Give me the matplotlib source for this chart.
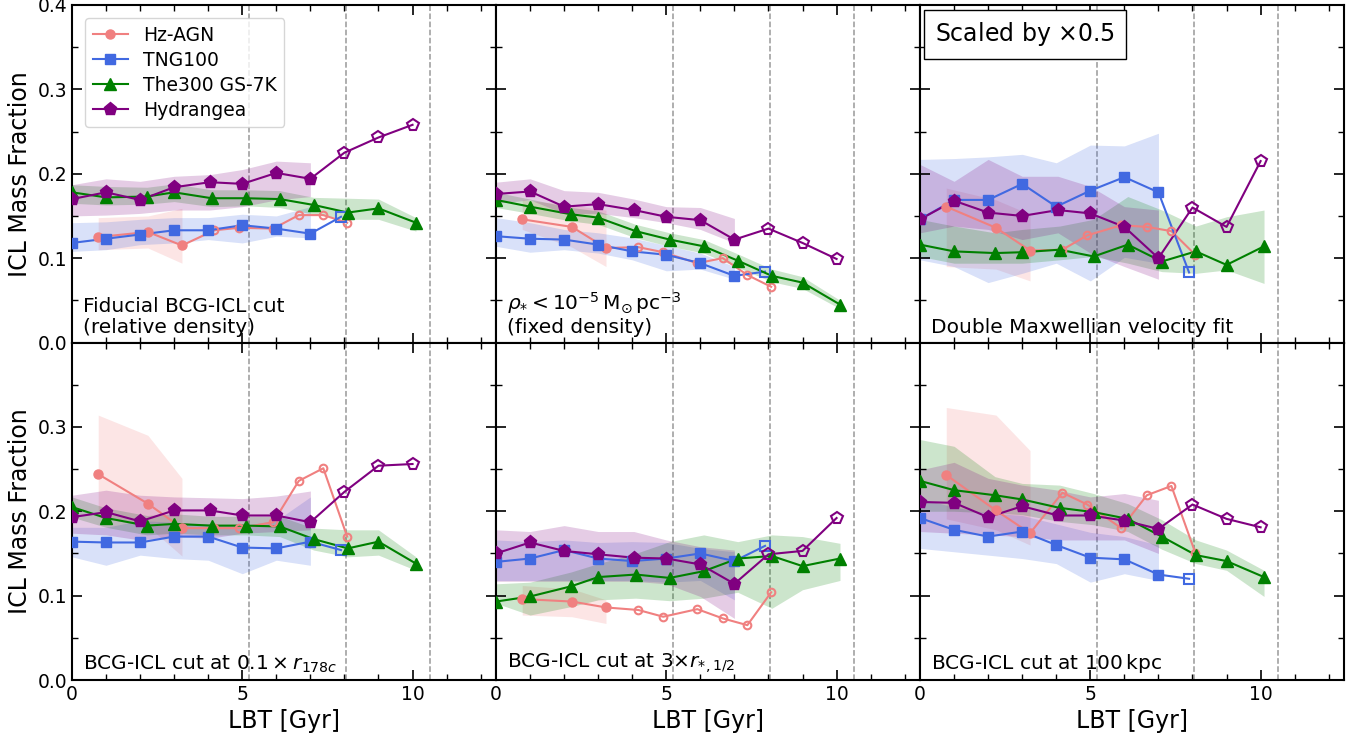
import numpy as np
import matplotlib
matplotlib.use("Agg")
import matplotlib.pyplot as plt
from matplotlib.ticker import MultipleLocator, FixedLocator, FixedFormatter
from matplotlib.lines import Line2D

# ---------------- data ----------------
# look-back times [Gyr] of the plotted points
hz_x = [0.77, 2.23, 3.23, 4.18, 4.91, 5.91, 6.66, 7.38, 8.08]
tng_x = [0.0, 1.0, 2.0, 3.0, 4.0, 5.0, 6.0, 7.0, 7.9]
t300_x = [0.0, 1.0, 2.2, 3.0, 4.1, 5.1, 6.1, 7.1, 8.1, 9.0, 10.1]
hyd_x = [0.0, 1.0, 2.0, 3.0, 4.05, 5.0, 6.0, 7.0, 8.0, 9.0, 10.0]

# number of filled (robust) points per simulation; rest are open markers
hz_nfill = 3
tng_nfill = 8
t300_nfill = 11
hyd_nfill = 8

panel_labels = [
    "Fiducial BCG-ICL cut\n(relative density)",
    r"$\rho_{*} < 10^{-5}\,\mathrm{M_{\odot}\,pc^{-3}}$" + "\n(fixed density)",
    "Double Maxwellian velocity fit",
    r"BCG-ICL cut at $0.1\times r_{178c}$",
    r"BCG-ICL cut at $3{\times}r_{*,1/2}$",
    r"BCG-ICL cut at 100$\,$kpc",
]
vlines_x = [5.2, 8.05, 10.5]
x_ticks = [0, 5, 10]
x_ticklabels = ["0", "5", "10"]
y_ticks = [0.0, 0.1, 0.2, 0.3, 0.4]
y_ticklabels_top = ["0.0", "0.1", "0.2", "0.3", "0.4"]
y_ticklabels_bottom = ["0.0", "0.1", "0.2", "0.3", ""]

# Hz-AGN (median, 16th, 84th percentile) per panel
hz_mid = [
    [0.125, 0.131, 0.115, 0.133, 0.136, 0.135, 0.151, 0.151, 0.142],
    [0.146, 0.137, 0.112, 0.113, 0.107, 0.094, 0.100, 0.080, 0.066],
    [0.161, 0.136, 0.109, 0.110, 0.127, 0.139, 0.137, 0.132, 0.104],
    [0.244, 0.209, 0.180, 0.180, 0.180, 0.187, 0.236, 0.251, 0.170],
    [0.096, 0.093, 0.086, 0.083, 0.075, 0.084, 0.073, 0.065, 0.104],
    [0.243, 0.201, 0.174, 0.222, 0.208, 0.180, 0.219, 0.230, 0.151],
]
hz_lo = [
    [0.110, 0.112, 0.094],
    [0.134, 0.113, 0.090],
    [0.090, 0.087, 0.073],
    [0.193, 0.182, 0.147],
    [0.077, 0.075, 0.067],
    [0.191, 0.178, 0.160],
]
hz_hi = [
    [0.148, 0.150, 0.159],
    [0.169, 0.163, 0.157],
    [0.183, 0.169, 0.152],
    [0.314, 0.290, 0.239],
    [0.112, 0.108, 0.095],
    [0.323, 0.314, 0.272],
]

# TNG100
tng_mid = [
    [0.118, 0.123, 0.128, 0.133, 0.133, 0.139, 0.135, 0.129, 0.149],
    [0.126, 0.123, 0.122, 0.116, 0.108, 0.104, 0.094, 0.079, 0.084],
    [0.146, 0.169, 0.169, 0.188, 0.161, 0.180, 0.196, 0.178, 0.083],
    [0.164, 0.163, 0.163, 0.170, 0.170, 0.157, 0.156, 0.164, 0.154],
    [0.140, 0.144, 0.154, 0.144, 0.141, 0.144, 0.150, 0.141, 0.159],
    [0.192, 0.178, 0.170, 0.176, 0.160, 0.145, 0.143, 0.125, 0.120],
]
tng_lo = [
    [0.108, 0.110, 0.116, 0.118, 0.122, 0.118, 0.126, 0.124],
    [0.114, 0.107, 0.110, 0.106, 0.098, 0.085, 0.087, 0.075],
    [0.098, 0.090, 0.071, 0.082, 0.094, 0.073, 0.101, 0.094],
    [0.146, 0.136, 0.148, 0.144, 0.142, 0.126, 0.142, 0.136],
    [0.118, 0.118, 0.118, 0.118, 0.118, 0.116, 0.118, 0.095],
    [0.156, 0.152, 0.148, 0.144, 0.138, 0.116, 0.126, 0.118],
]
tng_hi = [
    [0.142, 0.143, 0.146, 0.148, 0.148, 0.152, 0.150, 0.161],
    [0.148, 0.142, 0.134, 0.130, 0.124, 0.115, 0.106, 0.090],
    [0.217, 0.218, 0.220, 0.223, 0.213, 0.234, 0.233, 0.248],
    [0.181, 0.181, 0.189, 0.187, 0.185, 0.183, 0.189, 0.217],
    [0.166, 0.164, 0.166, 0.163, 0.164, 0.163, 0.156, 0.152],
    [0.215, 0.205, 0.198, 0.195, 0.185, 0.175, 0.170, 0.160],
]

# The300 GS-7K
t300_mid = [
    [0.178, 0.172, 0.173, 0.178, 0.171, 0.171, 0.170, 0.163, 0.154, 0.159, 0.142],
    [0.169, 0.161, 0.152, 0.148, 0.132, 0.122, 0.114, 0.097, 0.079, 0.071, 0.045],
    [0.116, 0.108, 0.106, 0.107, 0.110, 0.102, 0.116, 0.096, 0.108, 0.092, 0.114],
    [0.205, 0.192, 0.183, 0.185, 0.183, 0.183, 0.182, 0.167, 0.156, 0.164, 0.138],
    [0.093, 0.099, 0.111, 0.122, 0.125, 0.121, 0.129, 0.144, 0.147, 0.135, 0.144],
    [0.236, 0.225, 0.219, 0.214, 0.204, 0.199, 0.191, 0.170, 0.148, 0.141, 0.122],
]
t300_lo = [
    [0.165, 0.163, 0.164, 0.167, 0.161, 0.162, 0.160, 0.152, 0.146, 0.146, 0.132],
    [0.160, 0.153, 0.144, 0.140, 0.124, 0.114, 0.106, 0.089, 0.072, 0.064, 0.040],
    [0.102, 0.094, 0.094, 0.094, 0.098, 0.102, 0.094, 0.084, 0.082, 0.086, 0.070],
    [0.193, 0.181, 0.172, 0.174, 0.172, 0.172, 0.170, 0.154, 0.146, 0.148, 0.130],
    [0.091, 0.077, 0.087, 0.095, 0.097, 0.094, 0.097, 0.104, 0.085, 0.107, 0.118],
    [0.200, 0.200, 0.198, 0.196, 0.188, 0.184, 0.176, 0.155, 0.138, 0.130, 0.099],
]
t300_hi = [
    [0.187, 0.185, 0.184, 0.188, 0.181, 0.181, 0.180, 0.172, 0.171, 0.170, 0.148],
    [0.178, 0.170, 0.160, 0.156, 0.140, 0.130, 0.122, 0.105, 0.087, 0.078, 0.050],
    [0.146, 0.138, 0.130, 0.134, 0.138, 0.146, 0.173, 0.157, 0.138, 0.149, 0.157],
    [0.217, 0.204, 0.195, 0.197, 0.194, 0.194, 0.194, 0.180, 0.178, 0.178, 0.146],
    [0.114, 0.116, 0.128, 0.138, 0.150, 0.164, 0.172, 0.164, 0.172, 0.170, 0.162],
    [0.285, 0.277, 0.241, 0.233, 0.231, 0.221, 0.209, 0.190, 0.166, 0.154, 0.130],
]

# Hydrangea
hyd_mid = [
    [0.170, 0.178, 0.169, 0.184, 0.190, 0.188, 0.201, 0.194, 0.225, 0.243, 0.258],
    [0.176, 0.179, 0.161, 0.164, 0.157, 0.149, 0.145, 0.122, 0.135, 0.118, 0.099],
    [0.146, 0.168, 0.154, 0.150, 0.157, 0.153, 0.137, 0.100, 0.160, 0.137, 0.215],
    [0.193, 0.199, 0.188, 0.201, 0.201, 0.195, 0.195, 0.187, 0.223, 0.254, 0.256],
    [0.150, 0.163, 0.153, 0.149, 0.145, 0.144, 0.137, 0.114, 0.149, 0.153, 0.192],
    [0.211, 0.210, 0.193, 0.206, 0.195, 0.195, 0.189, 0.179, 0.208, 0.191, 0.181],
]
hyd_lo = [
    [0.150, 0.151, 0.153, 0.157, 0.157, 0.161, 0.169, 0.173],
    [0.165, 0.169, 0.153, 0.153, 0.148, 0.142, 0.134, 0.118],
    [0.130, 0.138, 0.134, 0.122, 0.130, 0.106, 0.090, 0.075],
    [0.174, 0.172, 0.166, 0.170, 0.168, 0.174, 0.176, 0.178],
    [0.117, 0.117, 0.117, 0.117, 0.117, 0.114, 0.099, 0.073],
    [0.176, 0.174, 0.172, 0.170, 0.166, 0.166, 0.166, 0.150],
]
hyd_hi = [
    [0.187, 0.194, 0.191, 0.197, 0.199, 0.205, 0.215, 0.213],
    [0.190, 0.194, 0.180, 0.178, 0.170, 0.161, 0.160, 0.147],
    [0.211, 0.191, 0.217, 0.197, 0.197, 0.185, 0.161, 0.157],
    [0.219, 0.225, 0.219, 0.217, 0.216, 0.215, 0.218, 0.224],
    [0.178, 0.176, 0.183, 0.176, 0.176, 0.166, 0.158, 0.154],
    [0.249, 0.258, 0.239, 0.231, 0.225, 0.217, 0.221, 0.213],
]

sims = [
    dict(name="Hz-AGN", x=hz_x, mid=hz_mid, lo=hz_lo, hi=hz_hi, nf=hz_nfill,
         color="#F08080", marker="o", ms=6.5, ms_open=5.5),
    dict(name="TNG100", x=tng_x, mid=tng_mid, lo=tng_lo, hi=tng_hi, nf=tng_nfill,
         color="#4169E1", marker="s", ms=7.5, ms_open=6.5),
    dict(name="The300 GS-7K", x=t300_x, mid=t300_mid, lo=t300_lo, hi=t300_hi, nf=t300_nfill,
         color="#008000", marker="^", ms=8.5, ms_open=7.5),
    dict(name="Hydrangea", x=hyd_x, mid=hyd_mid, lo=hyd_lo, hi=hyd_hi, nf=hyd_nfill,
         color="#800080", marker="p", ms=9.5, ms_open=8.5),
]

# ---------------- plot ----------------
plt.rcParams["font.family"] = ["DejaVu Sans"]
plt.rcParams["mathtext.fontset"] = "dejavusans"

fig, axes = plt.subplots(2, 3, figsize=(13.68, 7.35), dpi=100)
fig.subplots_adjust(left=0.0526, right=0.9825, top=0.9932, bottom=0.0748,
                    wspace=0, hspace=0)

for p, ax in enumerate(axes.flat):
    row, col = divmod(p, 3)
    for s in sims:
        x = np.array(s["x"])
        y = np.array(s["mid"][p])
        nf = s["nf"]
        ax.fill_between(x[:nf], s["lo"][p], s["hi"][p], color=s["color"],
                        alpha=0.2, lw=0, zorder=1)
        ax.plot(x, y, "-", color=s["color"], lw=1.5, zorder=3)
        ax.plot(x[:nf], y[:nf], ls="none", marker=s["marker"], ms=s["ms"],
                color=s["color"], zorder=4)
        if nf < len(x):
            ax.plot(x[nf:], y[nf:], ls="none", marker=s["marker"], ms=s["ms_open"],
                    mfc="none", mec=s["color"], mew=1.5, zorder=4)
    for xv in vlines_x:
        ax.axvline(xv, color="grey", ls="--", lw=1.1, alpha=0.8, zorder=0)

    ax.text(0.025, 0.015, panel_labels[p], transform=ax.transAxes,
            ha="left", va="bottom", fontsize=14.5, linespacing=1.15)

    ax.set_xlim(0, 12.45)
    ax.set_ylim(0, 0.4)
    ax.xaxis.set_major_locator(FixedLocator(x_ticks))
    ax.xaxis.set_minor_locator(MultipleLocator(1))
    ax.yaxis.set_major_locator(FixedLocator(y_ticks))
    ax.yaxis.set_minor_locator(MultipleLocator(0.05))
    if row == 1:
        ax.xaxis.set_major_formatter(FixedFormatter(x_ticklabels))
        ax.set_xlabel("LBT [Gyr]", fontsize=17)
    else:
        ax.xaxis.set_major_formatter(FixedFormatter(["", "", ""]))
    if col == 0:
        ax.yaxis.set_major_formatter(
            FixedFormatter(y_ticklabels_top if row == 0 else y_ticklabels_bottom))
        ax.set_ylabel("ICL Mass Fraction", fontsize=17)
    else:
        ax.yaxis.set_major_formatter(FixedFormatter([""] * len(y_ticks)))
    ax.tick_params(which="both", direction="in", top=True, right=True,
                   labelsize=13.5)
    ax.tick_params(which="major", length=7, width=1.2)
    ax.tick_params(which="minor", length=4, width=1.0)
    for sp in ax.spines.values():
        sp.set_linewidth(1.5)

handles = [Line2D([], [], color=s["color"], marker=s["marker"], ms=s["ms"], lw=1.5)
           for s in sims]
axes[0, 0].legend(handles, [s["name"] for s in sims], loc="upper left", fontsize=13.5,
                  borderaxespad=0.7, labelspacing=0.32, borderpad=0.4,
                  handlelength=1.9)

axes[0, 2].text(0.035, 0.955, r"Scaled by $\times$0.5", transform=axes[0, 2].transAxes,
                ha="left", va="top", fontsize=17,
                bbox=dict(boxstyle="square,pad=0.45", fc="white", ec="black", lw=1.0))

fig.savefig("out.png", dpi=100)
